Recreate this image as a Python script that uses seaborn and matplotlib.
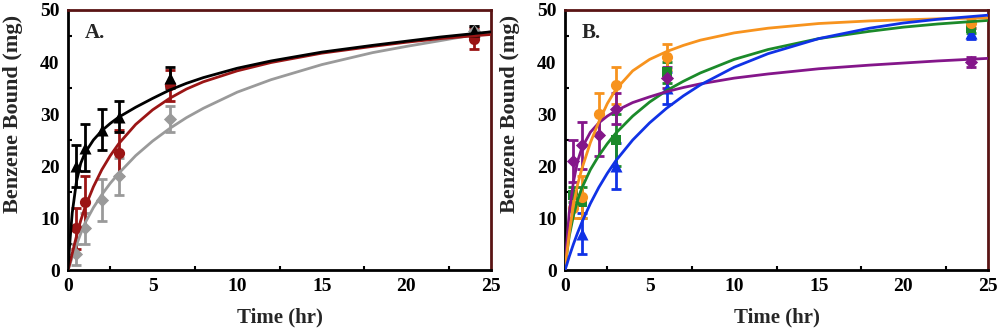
import numpy as np
import pandas as pd
import matplotlib
matplotlib.use("Agg")
import matplotlib.pyplot as plt
import seaborn as sns
from matplotlib.ticker import MultipleLocator

# === data ===
# panel A measured points (time hr, bound mg, error)
a_tri_t = [0.5, 1, 2, 3, 6, 24]
a_tri_y = [20, 23.5, 27, 29.5, 37, 46]
a_tri_e = [4, 4.5, 4, 3, 2, 1]

a_cir_t = [0.5, 1, 3, 6, 24]
a_cir_y = [8, 13, 22.5, 35.5, 44.5]
a_cir_e = [4, 5, 4.5, 3, 2]

a_dia_t = [0.5, 1, 2, 3, 6, 24]
a_dia_y = [3, 8, 13.5, 18, 29, 46]
a_dia_e = [2, 3, 4, 3.5, 2.5, 1]

# fitted curves, read at these times
fit_t = [0, 0.1, 0.25, 0.5, 0.75, 1, 1.5, 2, 2.5, 3, 4, 5, 6, 7, 8, 10,
         12, 15, 18, 20, 22, 25]
a_fit_black = [0, 5, 11, 17, 20.5, 22.5, 25, 26.8, 28.2, 29.4, 31.3, 33,
               34.6, 35.9, 37, 38.8, 40.2, 41.9, 43.2, 44, 44.8, 45.8]
a_fit_red = [0, 1.2, 3.2, 6.5, 9.5, 12, 16, 19.3, 22, 24.3, 28, 30.8,
             33, 34.8, 36.2, 38.3, 39.9, 41.7, 43, 43.8, 44.5, 45.3]
a_fit_gray = [0, 1, 2.5, 4.8, 7, 9, 12, 14.5, 16.7, 18.6, 22, 24.8,
              27.2, 29.3, 31.1, 34.2, 36.6, 39.5, 41.8, 43, 44.1, 45.8]

# panel B measured points
b_ora_t = [0.5, 1, 2, 3, 6, 24]
b_ora_y = [12, 14, 30, 35.5, 41, 47.5]
b_ora_e = [2, 4, 4, 3.5, 2.5, 1]

b_pur_t = [0.5, 1, 2, 3, 6, 24]
b_pur_y = [21, 24, 26, 31, 37, 40]
b_pur_e = [4, 4.5, 4, 3, 2, 1]

b_grn_t = [0.5, 1, 3, 6, 24]
b_grn_y = [14.5, 13, 25, 38, 46.5]
b_grn_e = [1.5, 3, 5, 2, 1]

b_blu_t = [1, 3, 6, 24]
b_blu_y = [7, 20, 35, 45.5]
b_blu_e = [4, 4.5, 3, 1]

b_fit_orange = [0, 3, 7, 12.5, 16.5, 19.5, 24.5, 28.5, 32, 34.7, 38.3, 40.5,
                42, 43.2, 44.2, 45.6, 46.5, 47.4, 47.9, 48.1, 48.3, 48.5]
b_fit_purple = [0, 5, 11, 17, 21, 23.5, 26.5, 28.3, 29.6, 30.6, 32.2, 33.3,
                34.3, 35.1, 35.8, 36.9, 37.7, 38.7, 39.4, 39.8, 40.2, 40.7]
b_fit_green = [0, 3, 6.5, 10.5, 13.5, 15.8, 19.3, 22, 24.3, 26.3, 29.6, 32.3,
               34.5, 36.3, 37.9, 40.5, 42.4, 44.5, 45.9, 46.7, 47.3, 48]
b_fit_blue = [0, 1, 2.6, 5, 7.2, 9.2, 12.8, 15.9, 18.6, 21, 25, 28.3,
              31.1, 33.5, 35.6, 39, 41.6, 44.5, 46.5, 47.5, 48.2, 49]

C_BLACK = "#000000"
C_RED = "#9b1515"
C_GRAY = "#9a9a9a"
C_ORANGE = "#f7931e"
C_PURPLE = "#84168a"
C_GREEN = "#1b8a2a"
C_BLUE = "#1032e6"
FRAME = "#5a1414"

sns.set_theme(style="white")
plt.rcParams["font.family"] = ["Liberation Serif", "DejaVu Serif"]
plt.rcParams["font.weight"] = "bold"

fig = plt.figure(figsize=(10, 3.33), dpi=100)
axA = fig.add_axes([0.068, 0.189, 0.423, 0.781])
axB = fig.add_axes([0.565, 0.189, 0.423, 0.781])


def draw_series(ax, t, y, e, color, marker, ms):
    ax.errorbar(t, y, yerr=e, fmt="none", ecolor=color, elinewidth=2,
                capsize=3.5, capthick=2, zorder=2)
    sns.scatterplot(x=t, y=y, ax=ax, color=color, marker=marker, s=ms,
                    edgecolor=color, linewidth=0, zorder=3)


def draw_fit(ax, ys, color):
    df = pd.DataFrame({"t": fit_t, "y": ys})
    sns.lineplot(data=df, x="t", y="y", ax=ax, color=color, lw=2, zorder=4)


draw_series(axA, a_dia_t, a_dia_y, a_dia_e, C_GRAY, "D", 45)
draw_series(axA, a_cir_t, a_cir_y, a_cir_e, C_RED, "o", 65)
draw_series(axA, a_tri_t, a_tri_y, a_tri_e, C_BLACK, "^", 75)
draw_fit(axA, a_fit_gray, C_GRAY)
draw_fit(axA, a_fit_red, C_RED)
draw_fit(axA, a_fit_black, C_BLACK)

draw_series(axB, b_blu_t, b_blu_y, b_blu_e, C_BLUE, "^", 75)
draw_series(axB, b_grn_t, b_grn_y, b_grn_e, C_GREEN, "s", 60)
draw_series(axB, b_ora_t, b_ora_y, b_ora_e, C_ORANGE, "o", 65)
draw_series(axB, b_pur_t, b_pur_y, b_pur_e, C_PURPLE, "D", 45)
draw_fit(axB, b_fit_green, C_GREEN)
draw_fit(axB, b_fit_purple, C_PURPLE)
draw_fit(axB, b_fit_orange, C_ORANGE)
draw_fit(axB, b_fit_blue, C_BLUE)

for ax, label in [(axA, "A."), (axB, "B.")]:
    ax.set_xlim(0, 25)
    ax.set_ylim(0, 50)
    ax.xaxis.set_major_locator(MultipleLocator(5))
    ax.xaxis.set_minor_locator(MultipleLocator(2.5))
    ax.yaxis.set_major_locator(MultipleLocator(10))
    ax.yaxis.set_minor_locator(MultipleLocator(5))
    ax.tick_params(which="both", direction="in", top=False, right=False,
                   labelsize=14, width=1.5, colors="black", pad=6)
    ax.tick_params(which="major", length=6)
    ax.tick_params(which="minor", length=3, left=True, bottom=True)
    for lab in ax.get_xticklabels() + ax.get_yticklabels():
        lab.set_fontweight("bold")
    ax.spines["left"].set_color("black")
    ax.spines["bottom"].set_color("black")
    ax.spines["top"].set_color(FRAME)
    ax.spines["right"].set_color(FRAME)
    for sp in ax.spines.values():
        sp.set_linewidth(2)
    ax.set_xlabel("Time (hr)", fontsize=15, fontweight="bold")
    ax.set_ylabel("Benzene Bound (mg)", fontsize=16, fontweight="bold")
    ax.xaxis.set_label_coords(0.5, -0.145)
    ax.yaxis.set_label_coords(-0.106, 0.6)
    ax.text(0.04, 0.95, label, transform=ax.transAxes, fontsize=15,
            fontweight="bold", va="top", ha="left")

fig.savefig("out.png", dpi=100)
